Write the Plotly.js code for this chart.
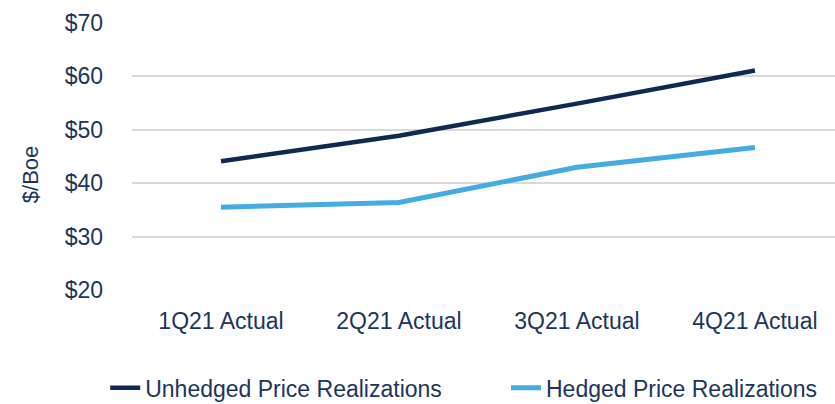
<!DOCTYPE html>
<html>
<head>
<meta charset="utf-8">
<script src="https://cdn.plot.ly/plotly-3.0.1.min.js"></script>
<style>html,body{margin:0;padding:0;overflow:hidden;background:#fff}</style>
</head>
<body>
<div id="chart" style="width:835px;height:404px"></div>
<script>
const categories = ["1Q21 Actual", "2Q21 Actual", "3Q21 Actual", "4Q21 Actual"];
const unhedged = [44.1, 48.9, 54.9, 61.1];
const hedged = [35.5, 36.4, 43.0, 46.7];
const yTickVals = [20, 30, 40, 50, 60, 70];
const yTickText = ["$20", "$30", "$40", "$50", "$60", "$70"];
const seriesNames = ["Unhedged Price Realizations", "Hedged Price Realizations"];
const yTitle = "$/Boe";

const textColor = "#1b365d";
const font = "Liberation Sans, Arial, sans-serif";

const traces = [
  {x: categories, y: unhedged, name: seriesNames[0], type: "scatter", mode: "lines",
   line: {color: "#0f2a50", width: 4.5}, legend: "legend"},
  {x: categories, y: hedged, name: seriesNames[1], type: "scatter", mode: "lines",
   line: {color: "#44ace2", width: 5}, legend: "legend2"}
];

const legendCommon = {orientation: "h", xref: "container", yref: "container",
  xanchor: "left", yanchor: "middle", y: 0.04, bgcolor: "rgba(0,0,0,0)",
  font: {size: 23, color: textColor}};

const layout = {
  width: 835, height: 404,
  margin: {l: 132, r: 0, t: 23, b: 114, autoexpand: false},
  paper_bgcolor: "#fff", plot_bgcolor: "#fff",
  font: {family: font, color: textColor, size: 23},
  showlegend: true,
  legend: Object.assign({}, legendCommon, {x: 0.126}),
  legend2: Object.assign({}, legendCommon, {x: 0.606}),
  xaxis: {type: "category", range: [-0.5, 3.45], showgrid: false, zeroline: false,
    showline: false, ticks: "", ticklabelstandoff: 15,
    tickfont: {size: 23, color: textColor}},
  yaxis: {range: [20, 70], tickvals: yTickVals, ticktext: yTickText,
    showgrid: true, gridcolor: "#d9d9d9", gridwidth: 2, zeroline: false, showline: false,
    ticks: "", ticklabelstandoff: 28, tickfont: {size: 23, color: textColor}},
  annotations: [{text: yTitle, xref: "paper", yref: "paper", x: -0.145, y: 0.434,
    xanchor: "center", yanchor: "middle", textangle: -90, showarrow: false,
    font: {size: 22, color: textColor}}]
};

Plotly.newPlot("chart", traces, layout, {staticPlot: true, displayModeBar: false});
</script>
</body>
</html>
